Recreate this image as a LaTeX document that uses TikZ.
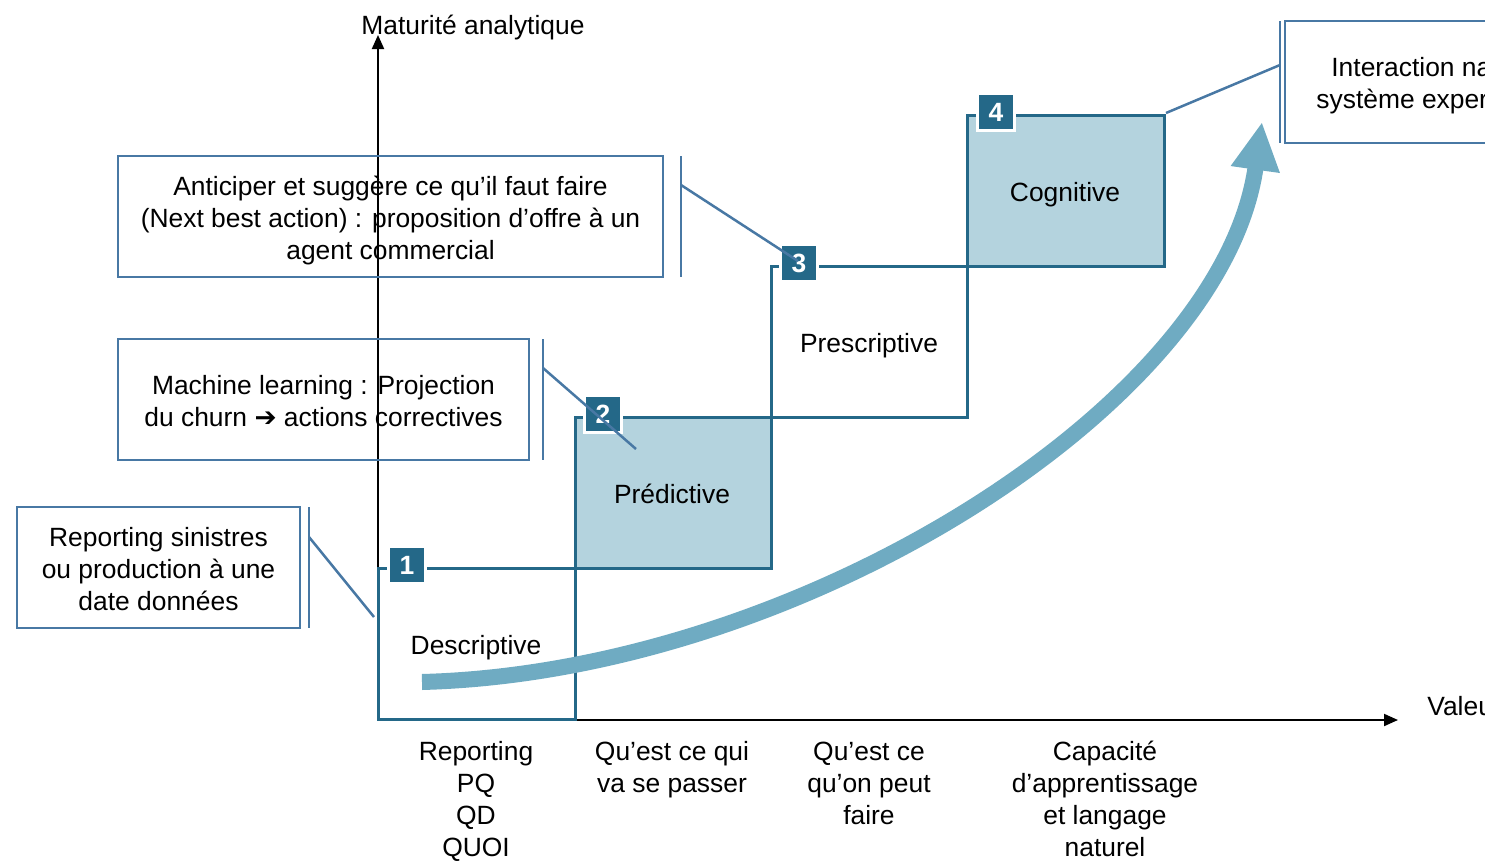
\documentclass[tikz,border=0pt]{standalone}
\usepackage{fontspec}
\setmainfont{Liberation Sans}
\newfontfamily\dejavu{DejaVu Sans}
\usetikzlibrary{arrows.meta}
\definecolor{stepdark}{RGB}{36,104,136}
\definecolor{stepfill}{RGB}{180,211,222}
\definecolor{growthcol}{RGB}{111,171,194}
\definecolor{calloutcol}{RGB}{72,120,164}
\begin{document}
\begin{tikzpicture}[x=0.5pt,y=-0.5pt,
  every node/.style={font=\fontsize{13.2}{16}\selectfont, inner sep=0pt},
  axisline/.style={line width=1pt, black},
  stepframe/.style={line width=1.5pt, draw=stepdark, fill=white},
  badge/.style={fill=stepdark, draw=white, line width=1.5pt, minimum size=18.5pt,
    text=white, font=\fontsize{13.2}{14}\bfseries},
  growth/.style={line width=8pt, draw=growthcol},
  calloutbox/.style={draw=calloutcol, line width=1.25pt, align=center},
  callline/.style={draw=calloutcol, line width=1.25pt},
  steplabel/.style={anchor=base},
  axislabel/.style={anchor=north, align=center}
]
\fill[white] (0,0) rectangle (1485,862);
\useasboundingbox (0,0) rectangle (1485,862);
\clip (0,0) rectangle (1485,862);

% axes
\coordinate (O) at (378,720);
\coordinate (ytip) at (378,35);
\coordinate (xtip) at (1398,720);
\draw[axisline,-{Triangle[length=7pt,width=6pt]}] (O) -- (ytip);
\draw[axisline,-{Triangle[length=7pt,width=6pt]}] (O) -- (xtip);
\node[anchor=base] (ylab) at (473,34) {Maturité analytique};
\node[anchor=base west] (xlab) at (1427,715) {Valeur};

% steps
\draw[stepframe] (378,568) rectangle (575,719);
\draw[stepframe,fill=stepfill] (575,417) rectangle (771,568);
\draw[stepframe] (771,266) rectangle (967,417);
\draw[stepframe,fill=stepfill] (967,115) rectangle (1164,266);
\node[steplabel] (l1) at (476,654) {Descriptive};
\node[steplabel] (l2) at (672,503) {Prédictive};
\node[steplabel] (l3) at (869,352) {Prescriptive};
\node[steplabel] (l4) at (1065,201) {Cognitive};

% growth arrow
\coordinate (gs) at (422,682);
\coordinate (ge) at (1262,122);
\draw[growth,-{Triangle[length=24pt,width=23pt]}] (gs) .. controls (800,672) and (1222,405) .. (ge);

% badges
\node[badge] (b1) at (407,565) {1};
\node[badge] (b2) at (603,414) {2};
\node[badge] (b3) at (799,263) {3};
\node[badge] (b4) at (996,112) {4};

% callouts
\node[calloutbox, minimum width=141.5pt, minimum height=60.5pt] (c1) at (158.5,567.5) {};
\node[align=center] (c1t) at (158.5,569.5)
  {Reporting sinistres\\ou production à une\\date données};
\coordinate (c1bt) at (309,507); \coordinate (c1bb) at (309,628);
\coordinate (c1p) at (309,537); \coordinate (c1e) at (374,617);
\draw[callline] (c1bt) -- (c1bb);
\draw[callline] (c1p) -- (c1e);

\node[calloutbox, minimum width=205.5pt, minimum height=60.5pt] (c2) at (323.5,399.5) {};
\node[align=center] (c2t) at (323.5,401.5)
  {Machine learning : Projection\\du churn {\dejavu ➔} actions correctives};
\coordinate (c2bt) at (543,339); \coordinate (c2bb) at (543,460);
\coordinate (c2p) at (543,368); \coordinate (c2e) at (636,449);
\draw[callline] (c2bt) -- (c2bb);
\draw[callline] (c2p) -- (c2e);

\node[calloutbox, minimum width=272.5pt, minimum height=60.5pt] (c3) at (390.5,216.5) {};
\node[align=center] (c3t) at (390.5,220.5)
  {Anticiper et suggère ce qu’il faut faire\\(Next best action) : proposition d’offre à un\\agent commercial};
\coordinate (c3bt) at (681,156); \coordinate (c3bb) at (681,277);
\coordinate (c3p) at (681,185); \coordinate (c3e) at (798,261);
\draw[callline] (c3bt) -- (c3bb);
\draw[callline] (c3p) -- (c3e);

\node[calloutbox, minimum width=137.5pt, minimum height=61pt] (c4) at (1422.5,82) {};
\node[anchor=base west] (c4a) at (1331,76) {Interaction naturelle};
\node[anchor=base west] (c4b) at (1316,108) {système expert};
\coordinate (c4bt) at (1280,21); \coordinate (c4bb) at (1280,143);
\coordinate (c4p) at (1280,65); \coordinate (c4e) at (1166,113);
\draw[callline] (c4bt) -- (c4bb);
\draw[callline] (c4p) -- (c4e);

% axis category labels
\node[axislabel] (t1) at (476,741) {Reporting\\PQ\\QD\\QUOI};
\node[axislabel] (t2) at (672,741) {Qu’est ce qui\\va se passer};
\node[axislabel] (t3) at (869,742) {Qu’est ce\\qu’on peut\\faire};
\node[axislabel] (t4) at (1105,741) {Capacité\\d’apprentissage\\et langage\\naturel};
\end{tikzpicture}
\end{document}
